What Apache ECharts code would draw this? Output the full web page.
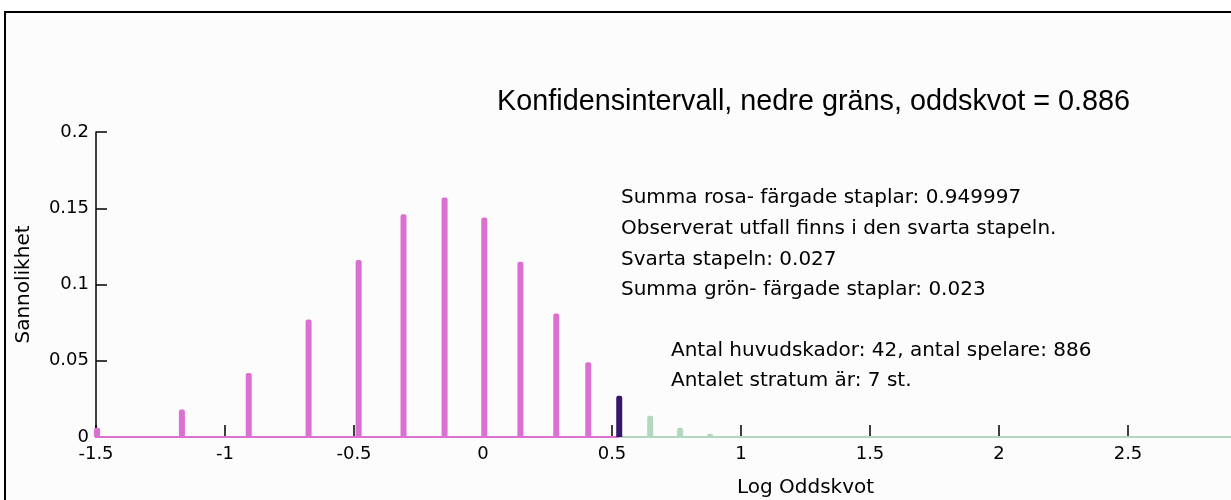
<!DOCTYPE html>
<html>
<head>
<meta charset="utf-8">
<script src="https://cdn.jsdelivr.net/npm/echarts@6/dist/echarts.min.js"></script>
<style>
  html, body { margin: 0; padding: 0; background: #fff; }
  #chart { width: 1231px; height: 500px; }
</style>
</head>
<body>
<div id="chart"></div>
<script>
// log oddskvot och sannolikhet per stapel
const pinkX = [-1.496, -1.167, -0.908, -0.676, -0.482, -0.308, -0.149, 0.005, 0.145, 0.284, 0.408]
const pinkProb = [0.006, 0.018, 0.042, 0.077, 0.116, 0.146, 0.157, 0.144, 0.115, 0.081, 0.049]
const blackX = [0.528]
const blackProb = [0.027]
const greenX = [0.648, 0.764, 0.880, 0.988]
const greenProb = [0.014, 0.006, 0.0022, 0.0008]
// baslinjen: rosa till den svarta stapeln, sedan grön
const pinkBase = [[-1.5, 0], [0.528, 0]]
const greenBase = [[0.528, 0], [4, 0]]

const titleText = 'Konfidensintervall, nedre gräns, oddskvot = 0.886'
const infoLines = [
  'Summa rosa- färgade staplar: 0.949997',
  'Observerat utfall finns i den svarta stapeln.',
  'Svarta stapeln: 0.027',
  'Summa grön- färgade staplar: 0.023'
]
const countLines = [
  'Antal huvudskador: 42, antal spelare: 886',
  'Antalet stratum är: 7 st.'
]

const FONT = 'DejaVu Sans'
const pink = '#da70d0'
const dark = '#36176c'
const green = '#b4d8bf'

const zip = (xs, ys) => xs.map((x, i) => [x, ys[i]])

const chart = echarts.init(document.getElementById('chart'))

const texts = []
texts.push({
  type: 'text', left: 497, top: 88,
  style: { text: titleText, font: '28.8px "Liberation Sans"', fill: '#000' }
})
infoLines.forEach((t, i) => {
  texts.push({
    type: 'text', left: 621, top: 188 + i * 30.7,
    style: { text: t, font: '20px ' + FONT, fill: '#000' }
  })
})
countLines.forEach((t, i) => {
  texts.push({
    type: 'text', left: 671, top: 341 + i * 30,
    style: { text: t, font: '20px ' + FONT, fill: '#000' }
  })
})

chart.setOption({
  backgroundColor: '#fff',
  animation: false,
  // ram runt figuren
  graphic: [{
    type: 'rect', left: 4, top: 11, z: -1,
    shape: { width: 1400, height: 700 },
    style: { fill: '#fcfcfc', stroke: '#000', lineWidth: 2 }
  }].concat(texts),
  grid: {
    left: 96,
    right: -284,
    top: 132,
    bottom: 63,
    containLabel: false,
    outerBoundsMode: 'none'
  },
  xAxis: {
    type: 'value',
    min: -1.5,
    max: 4,
    interval: 0.5,
    name: 'Log Oddskvot',
    nameLocation: 'middle',
    nameGap: 41,
    nameTextStyle: { fontFamily: FONT, fontSize: 20, color: '#000' },
    axisLine: { show: false },
    axisTick: { show: true, inside: true, length: 12, lineStyle: { color: '#000', width: 1.5 } },
    axisLabel: { fontFamily: FONT, fontSize: 18, color: '#000', margin: 8, showMinLabel: true },
    splitLine: { show: false }
  },
  yAxis: {
    type: 'value',
    min: 0,
    max: 0.2,
    interval: 0.05,
    name: 'Sannolikhet',
    nameLocation: 'middle',
    nameGap: 62,
    nameTextStyle: { fontFamily: FONT, fontSize: 20, color: '#000' },
    axisLine: { show: true, onZero: false, lineStyle: { color: '#000', width: 1.5 } },
    axisTick: { show: true, inside: true, length: 11, lineStyle: { color: '#000', width: 1.5 } },
    axisLabel: { fontFamily: FONT, fontSize: 18, color: '#000', margin: 7 },
    splitLine: { show: false }
  },
  series: [{
    type: 'line',
    data: pinkBase,
    symbol: 'none',
    lineStyle: { color: pink, width: 2 },
    z: 3
  }, {
    type: 'line',
    data: greenBase,
    symbol: 'none',
    lineStyle: { color: green, width: 2 },
    z: 3
  }, {
    type: 'bar',
    data: zip(pinkX, pinkProb),
    barWidth: 6,
    barGap: '-100%',
    itemStyle: { color: pink, borderRadius: [2, 2, 0, 0] },
    z: 4
  }, {
    type: 'bar',
    data: zip(blackX, blackProb),
    barWidth: 6,
    barGap: '-100%',
    itemStyle: { color: dark, borderRadius: [2, 2, 0, 0] },
    z: 4
  }, {
    type: 'bar',
    data: zip(greenX, greenProb),
    barWidth: 6,
    barGap: '-100%',
    itemStyle: { color: green, borderRadius: [2, 2, 0, 0] },
    z: 4
  }]
})
</script>
</body>
</html>
